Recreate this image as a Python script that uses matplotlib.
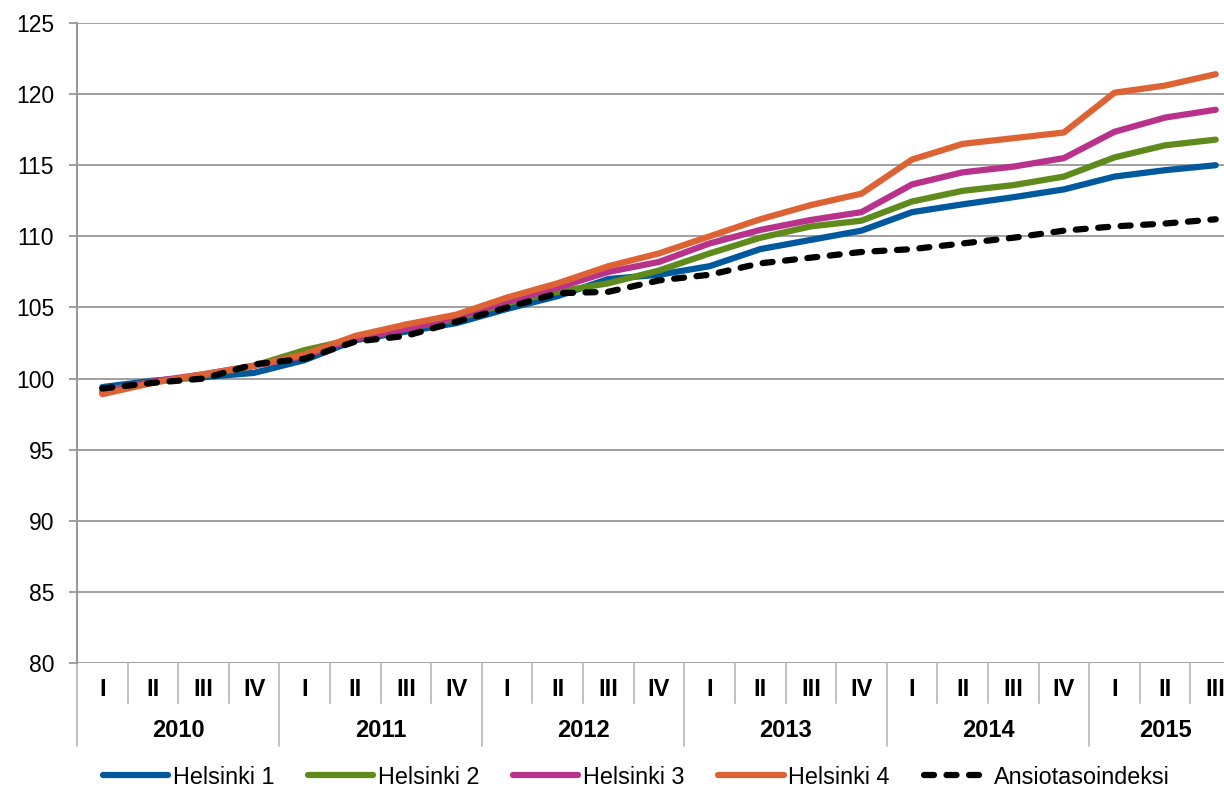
import matplotlib
matplotlib.use("Agg")
import matplotlib.pyplot as plt
import matplotlib.transforms as mtransforms

plt.rcParams['font.family'] = ['Liberation Sans', 'DejaVu Sans']

years = ["2010", "2011", "2012", "2013", "2014", "2015"]
quarters = ["I", "II", "III", "IV"]
year_quarters = [4, 4, 4, 4, 4, 3]

helsinki1 = [99.4, 99.85, 100.1, 100.4, 101.3, 102.7, 103.3, 103.9, 104.9, 105.8, 107.0, 107.3,
             107.9, 109.1, 109.75, 110.4, 111.7, 112.25, 112.75, 113.3, 114.2, 114.65, 115.0]
helsinki2 = [99.1, 99.8, 100.2, 100.9, 102.0, 102.8, 103.5, 104.2, 105.3, 106.1, 106.7, 107.6,
             108.8, 109.9, 110.7, 111.1, 112.45, 113.2, 113.6, 114.2, 115.55, 116.4, 116.8]
helsinki3 = [99.0, 99.8, 100.3, 100.9, 101.6, 102.8, 103.5, 104.3, 105.4, 106.4, 107.5, 108.2,
             109.5, 110.45, 111.15, 111.7, 113.65, 114.5, 114.9, 115.5, 117.35, 118.35, 118.9]
helsinki4 = [98.9, 99.7, 100.3, 100.9, 101.7, 103.0, 103.8, 104.5, 105.7, 106.7, 107.9, 108.8,
             110.0, 111.2, 112.2, 113.0, 115.4, 116.5, 116.9, 117.3, 120.1, 120.6, 121.4]
ansiotaso = [99.3, 99.7, 100.0, 101.0, 101.4, 102.6, 103.0, 104.0, 105.0, 106.0, 106.1, 106.9,
             107.3, 108.1, 108.5, 108.9, 109.1, 109.5, 109.9, 110.4, 110.7, 110.9, 111.2]

series_names = ["Helsinki 1", "Helsinki 2", "Helsinki 3", "Helsinki 4", "Ansiotasoindeksi"]
colors = ["#00599c", "#5e8b1b", "#b8318a", "#de6334", "#000000"]

W, H = 1224, 788
fig = plt.figure(figsize=(W / 100, H / 100), dpi=100)
left_px, right_px, top_px, bottom_px = 77, 1241, 23, 663
ax = fig.add_axes([left_px / W, 1 - bottom_px / H, (right_px - left_px) / W, (bottom_px - top_px) / H])

n = sum(year_quarters)
x = list(range(n))
lw = 4.5
for vals, name, c in zip([helsinki1, helsinki2, helsinki3, helsinki4], series_names[:4], colors[:4]):
    ax.plot(x, vals, color=c, lw=lw, solid_capstyle='round', solid_joinstyle='round', label=name, zorder=3)
ax.plot(x, ansiotaso, color=colors[4], lw=lw, dashes=(1.6, 2.0), dash_capstyle='round',
        dash_joinstyle='round', label=series_names[4], zorder=4)

gridc = '#999999'
ax.set_xlim(-0.5, n - 0.5)
ax.set_ylim(80, 125)
ax.set_yticks(range(80, 126, 5))
ax.grid(axis='y', color=gridc, lw=1.3, zorder=0)
ax.set_axisbelow(True)
for s in ['top', 'right', 'bottom']:
    ax.spines[s].set_visible(False)
ax.spines['left'].set_color(gridc)
ax.spines['left'].set_linewidth(1.5)
ax.tick_params(axis='y', length=6, width=1.3, color=gridc, labelsize=16.5, pad=10.5, labelcolor='black')
ax.set_xticks([])

# category axis
tr = mtransforms.blended_transform_factory(ax.transData, ax.transAxes)
hpx = bottom_px - top_px
q_label_y = -26.5 / hpx
q_sep_y = -40 / hpx
y_sep_y = -83 / hpx
y_label_y = -67.5 / hpx
sepc = '#b0b0b0'
pos = 0
ax.plot([-0.5, -0.5], [0, y_sep_y], transform=tr, color=sepc, lw=1.1, clip_on=False)
for yr, nq in zip(years, year_quarters):
    for q in range(nq):
        xi = pos + q
        ax.text(xi, q_label_y, quarters[q], transform=tr, ha='center', va='center',
                fontsize=17, fontweight='bold')
        if q < nq - 1:
            ax.plot([xi + 0.5, xi + 0.5], [0, q_sep_y], transform=tr, color=sepc, lw=1.1, clip_on=False)
    end = pos + nq - 0.5
    ax.plot([end, end], [0, y_sep_y], transform=tr, color=sepc, lw=1.1, clip_on=False)
    ax.text(pos + (nq - 1) / 2, y_label_y, yr, transform=tr, ha='center', va='center',
            fontsize=17, fontweight='bold')
    pos += nq

handles, labels = ax.get_legend_handles_labels()
leg = fig.legend(handles, labels, loc='center', bbox_to_anchor=(636 / W, 1 - 777 / H), ncol=5,
                 frameon=False, fontsize=16.8, handlelength=2.8, handletextpad=0.2,
                 columnspacing=1.45, borderaxespad=0, borderpad=0)

fig.savefig("out.png", dpi=100)
